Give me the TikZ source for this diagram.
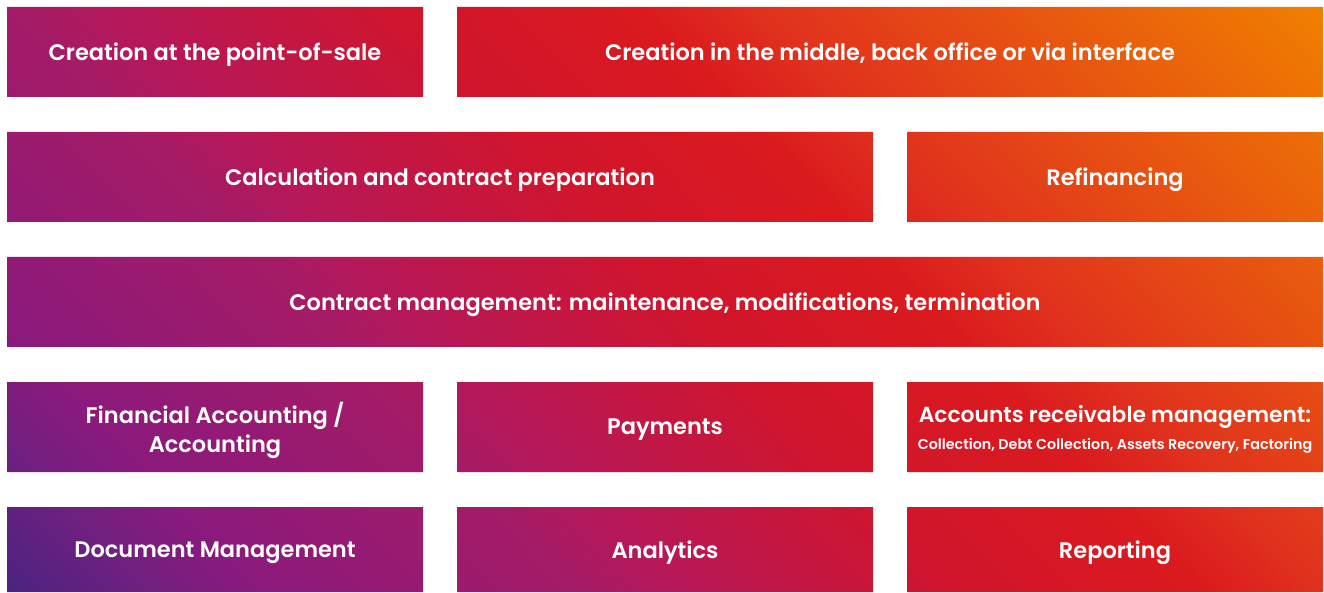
\documentclass[tikz,border=0pt]{standalone}
\usepackage{fontspec}
\setmainfont{Poppins}[BoldFont={Poppins SemiBold}]
\usetikzlibrary{backgrounds}

\definecolor{brandPurple}{HTML}{4A2380}
\definecolor{brandPlum}{HTML}{6E2080}
\definecolor{brandViolet}{HTML}{8A1A7D}
\definecolor{brandMagenta}{HTML}{A51B66}
\definecolor{brandCrimson}{HTML}{B5185A}
\definecolor{brandRed}{HTML}{D0152D}
\definecolor{brandScarlet}{HTML}{DA1A1E}
\definecolor{brandVermilion}{HTML}{E0301E}
\definecolor{brandOrange}{HTML}{F08000}

\pgfdeclarehorizontalshading{brandshade}{100bp}{%
  color(0bp)=(brandPurple); color(26.3bp)=(brandPurple);
  color(29.8bp)=(brandPlum); color(32.7bp)=(brandViolet);
  color(40.9bp)=(brandMagenta); color(43bp)=(brandCrimson);
  color(50.3bp)=(brandRed); color(56.4bp)=(brandScarlet);
  color(59.3bp)=(brandVermilion);
  color(73.6bp)=(brandOrange); color(100bp)=(brandOrange)}

\tikzset{
  tile/.style={rectangle, inner sep=0pt, outer sep=0pt, minimum height=90pt,
    text=white, align=center, text depth=0pt,
    font=\bfseries\fontsize{22.5}{29}\selectfont},
  narrow/.style={tile, minimum width=416pt},
  wide/.style={tile, minimum width=866pt},
  full/.style={tile, minimum width=1316pt}
}

\begin{document}
\begin{tikzpicture}[x=1pt, y=1pt]
  \useasboundingbox (0,0) rectangle (1324,592);

  % Creation
  \node[narrow] (pos) at (215,540) {Creation at the point-of-sale};
  \node[wide] (backoffice) at (890,540) {Creation in the middle, back office or via interface};

  % Calculation and refinancing
  \node[wide] (calc) at (440,415) {Calculation and contract preparation};
  \node[narrow] (refin) at (1115,415) {Refinancing};

  % Contract management
  \node[full] (contract) at (665,290) {Contract management: maintenance, modifications, termination};

  % Accounting, payments, receivables
  \node[narrow] (fibu) at (215,165) {Financial Accounting /\\Accounting};
  \node[narrow] (payments) at (665,165) {Payments};
  \node[narrow] (receivables) at (1115,165) {{\fontsize{21.8}{29}\selectfont Accounts receivable management:}\\[-2pt]
    {\fontsize{14.3}{16}\selectfont Collection, Debt Collection, Assets Recovery, Factoring}};

  % Documents, analytics, reporting
  \node[narrow, minimum height=85pt] (docs) at (215,42.5) {Document Management};
  \node[narrow, minimum height=85pt] (analytics) at (665,42.5) {Analytics};
  \node[narrow, minimum height=85pt] (reporting) at (1115,42.5) {Reporting};

  % one gradient running through all tiles
  \begin{scope}[on background layer]
    \clip foreach \t in {pos,backoffice,calc,refin,contract,fibu,payments,receivables,docs,analytics,reporting}
      {(\t.south west) rectangle (\t.north east)};
    \shade[shading=brandshade, shading angle=44] (-58,-424) rectangle (1382,1016);
  \end{scope}
\end{tikzpicture}
\end{document}
